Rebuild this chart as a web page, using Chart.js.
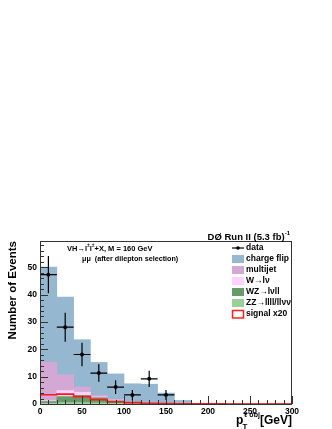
<!DOCTYPE html>
<html>
<head>
<meta charset="utf-8">
<script src="https://cdn.jsdelivr.net/npm/chart.js@4.4.1/dist/chart.umd.min.js"></script>
<style>
  html, body { margin: 0; padding: 0; background: #fff; }
  #wrap { width: 332px; height: 429px; position: relative; }
</style>
</head>
<body>
<div id="wrap"><canvas id="histChart"></canvas></div>
<script>
// bins of 20 GeV from 0 to 300
const binEdges = [0, 20, 40, 60, 80, 100, 120, 140, 160, 180, 200, 220, 240, 260, 280, 300];
const binLabels = ['0-20', '20-40', '40-60', '60-80', '80-100', '100-120', '120-140', '140-160',
                   '160-180', '180-200', '200-220', '220-240', '240-260', '260-280', '280-300'];

// background components (stacked, bottom first)
const zzVals = [0.3, 0.5, 0.5, 0.4, 0.2, 0.1, 0.05, 0, 0, 0, 0, 0, 0, 0, 0];
const wzVals = [0.6, 2.2, 2.6, 1.9, 1.0, 0.4, 0.2, 0.1, 0, 0, 0, 0, 0, 0, 0];
const wVals = [0.3, 2.2, 1.2, 0.3, 0.2, 0, 0, 0, 0, 0, 0, 0, 0, 0, 0];
const multijetVals = [14.1, 5.8, 1.9, 0.6, 0.3, 0.2, 0.1, 0, 0, 0, 0, 0, 0, 0, 0];
const chargeFlipVals = [34.8, 28.4, 17.3, 12.0, 9.3, 6.7, 6.9, 3.9, 1.3, 0, 0, 0, 0, 0, 0];

// signal x20 (outline only)
const signalVals = [1.5, 3.4, 3.6, 2.7, 1.6, 0.8, 0.5, 0.3, 0.15, 0.1, 0.05, 0.03, 0.02, 0.01, 0.01];

// data points with errors
const dataCenters = [10, 30, 50, 70, 90, 110, 130, 150];
const dataVals = [47.3, 28.1, 18.1, 11.3, 6.2, 3.3, 9.2, 3.3];
const dataErrs = [6.8, 5.3, 4.3, 3.2, 2.5, 1.8, 3.0, 1.8];
const dataHalfWidth = 10;

const yTicks = [0, 10, 20, 30, 40, 50];
const xTicks = [0, 50, 100, 150, 200, 250, 300];

const FONT = '"Liberation Sans", Arial, Helvetica, sans-serif';

const signalPts = binEdges.map((e, i) => ({ x: e, y: i < signalVals.length ? signalVals[i] : 0 }));
const dataPts = dataCenters.map((c, i) => ({ x: c, y: dataVals[i] }));

const errorBars = {
  id: 'errorBars',
  afterDatasetsDraw(chart) {
    const { ctx, scales: { x, y } } = chart;
    ctx.save();
    ctx.strokeStyle = '#000';
    ctx.lineWidth = 1.2;
    dataCenters.forEach((c, i) => {
      const px = x.getPixelForValue(c);
      const py = y.getPixelForValue(dataVals[i]);
      ctx.beginPath();
      ctx.moveTo(px, y.getPixelForValue(dataVals[i] + dataErrs[i]));
      ctx.lineTo(px, y.getPixelForValue(Math.max(0, dataVals[i] - dataErrs[i])));
      ctx.moveTo(x.getPixelForValue(c - dataHalfWidth), py);
      ctx.lineTo(x.getPixelForValue(c + dataHalfWidth), py);
      ctx.stroke();
    });
    ctx.restore();
  }
};

const frameAndText = {
  id: 'frameAndText',
  afterDraw(chart) {
    const { ctx, chartArea: a, scales: { x, y } } = chart;
    ctx.save();
    // frame
    ctx.strokeStyle = '#333';
    ctx.lineWidth = 1;
    ctx.strokeRect(a.left + 0.5, a.top + 0.5, a.right - a.left - 1, a.bottom - a.top);
    // inward ticks
    ctx.beginPath();
    for (let v = 0; v <= 60; v += 2) {
      const py = Math.round(y.getPixelForValue(v)) + 0.5;
      if (py < a.top) continue;
      ctx.moveTo(a.left, py);
      ctx.lineTo(a.left + (v % 10 === 0 ? 8 : 4), py);
    }
    for (let v = 0; v <= 300; v += 10) {
      const px = Math.round(x.getPixelForValue(v)) + 0.5;
      ctx.moveTo(px, a.bottom);
      ctx.lineTo(px, a.bottom - (v % 50 === 0 ? 8 : 4));
    }
    ctx.stroke();

    ctx.fillStyle = '#000';
    ctx.textBaseline = 'middle';

    // header
    ctx.textAlign = 'right';
    ctx.font = 'bold 6px ' + FONT;
    ctx.fillText('-1', 290, 233);
    const supW = ctx.measureText('-1').width;
    ctx.font = 'bold 9.5px ' + FONT;
    ctx.fillText(')', 290 - supW, 237);
    const parW = ctx.measureText(')').width;
    ctx.fillText('DØ Run II (5.3 fb', 290 - supW - parW, 237);

    // annotation
    ctx.textAlign = 'left';
    let tx = 67;
    const parts = [['VH→l', 0], ['±', -3], ['l', 0], ['±', -3], ['+X, M = 160 GeV', 0]];
    parts.forEach(([s, dy]) => {
      ctx.font = (dy ? 'bold 5px ' : 'bold 7.5px ') + FONT;
      ctx.fillText(s, tx, 249 + dy);
      tx += ctx.measureText(s).width;
    });
    ctx.font = 'bold 7.2px ' + FONT;
    ctx.fillText('μμ  (after dilepton selection)', 82, 259);

    // legend
    const legend = [
      { t: 'data', kind: 'data' },
      { t: 'charge flip', c: '#95b7d0' },
      { t: 'multijet', c: '#d4a8d4' },
      { t: 'W→lν', c: '#ffd2ff' },
      { t: 'WZ→lνll', c: '#679a69' },
      { t: 'ZZ→llll/llνν', c: '#9ccf9a' },
      { t: 'signal x20', kind: 'sig' }
    ];
    ctx.font = 'bold 8.5px ' + FONT;
    legend.forEach((e, i) => {
      const cy = 248 + i * 11;
      if (e.kind === 'data') {
        ctx.strokeStyle = '#000';
        ctx.lineWidth = 1.2;
        ctx.beginPath();
        ctx.moveTo(232, cy); ctx.lineTo(244, cy);
        ctx.stroke();
        ctx.beginPath();
        ctx.arc(238, cy, 1.8, 0, Math.PI * 2);
        ctx.fill();
      } else if (e.kind === 'sig') {
        ctx.strokeStyle = '#ff2020';
        ctx.lineWidth = 1.5;
        ctx.strokeRect(232.5, cy - 3.5, 11, 7.5);
      } else {
        ctx.fillStyle = e.c;
        ctx.fillRect(232, cy - 4, 12, 8);
      }
      ctx.fillStyle = '#000';
      ctx.fillText(e.t, 246, cy);
    });

    // y title
    ctx.save();
    ctx.translate(13, 241);
    ctx.rotate(-Math.PI / 2);
    ctx.textAlign = 'right';
    ctx.font = 'bold 11.5px ' + FONT;
    ctx.fillText('Number of Events', 0, 0);
    ctx.restore();

    // x title
    ctx.textAlign = 'right';
    ctx.textBaseline = 'alphabetic';
    ctx.font = 'bold 12px ' + FONT;
    ctx.fillText('[GeV]', 292, 424);
    ctx.textAlign = 'left';
    ctx.fillText('p', 236, 424);
    ctx.font = 'bold 8px ' + FONT;
    ctx.fillText('T', 242.5, 429);
    ctx.font = 'bold 7px ' + FONT;
    ctx.fillText('ℓ obj', 244, 417);
    ctx.restore();
  }
};

const barDs = (label, vals, color) => ({
  type: 'bar', label, data: vals, xAxisID: 'xb', yAxisID: 'y', stack: 'bg', grouped: false,
  backgroundColor: color, borderWidth: 0, barPercentage: 1, categoryPercentage: 1
});

new Chart(document.getElementById('histChart').getContext('2d'), {
  type: 'bar',
  data: {
    datasets: [
      {
        type: 'line', label: 'data', data: dataPts, xAxisID: 'x', yAxisID: 'y', stack: 'data',
        showLine: false, pointRadius: 2, pointBackgroundColor: '#000', pointBorderWidth: 0
      },
      {
        type: 'line', label: 'signal x20', data: signalPts, xAxisID: 'x', yAxisID: 'y', stack: 'sig',
        stepped: 'after', borderColor: '#ff1a1a', borderWidth: 1.6, pointRadius: 0, fill: false
      },
      barDs('ZZ→llll/llνν', zzVals, '#9ccf9a'),
      barDs('WZ→lνll', wzVals, '#679a69'),
      barDs('W→lν', wVals, '#ffd2ff'),
      barDs('multijet', multijetVals, '#d4a8d4'),
      barDs('charge flip', chargeFlipVals, '#95b7d0')
    ]
  },
  options: {
    responsive: true,
    maintainAspectRatio: false,
    animation: false,
    layout: { padding: { left: 0, right: 40, top: 241, bottom: 0 } },
    plugins: { legend: { display: false }, tooltip: { enabled: false } },
    scales: {
      xb: { type: 'category', labels: binLabels, display: false, offset: true },
      x: {
        type: 'linear', position: 'bottom', min: 0, max: 300, offset: false,
        grid: { display: false, drawTicks: false, offset: false }, border: { display: false },
        afterBuildTicks: (s) => { s.ticks = xTicks.map(v => ({ value: v })); },
        afterFit: (s) => { s.height = 25; },
        ticks: { color: '#000', padding: 3, maxRotation: 0, font: { family: FONT, size: 8.5, weight: 'bold' } }
      },
      y: {
        type: 'linear', min: 0, max: 59.6, stacked: true, offset: false,
        grid: { display: false, drawTicks: false }, border: { display: false },
        afterBuildTicks: (s) => { s.ticks = yTicks.map(v => ({ value: v })); },
        afterFit: (s) => { s.width = 40; },
        ticks: { color: '#000', padding: 3, font: { family: FONT, size: 8.5, weight: 'bold' } }
      }
    }
  },
  plugins: [errorBars, frameAndText]
});
</script>
</body>
</html>
